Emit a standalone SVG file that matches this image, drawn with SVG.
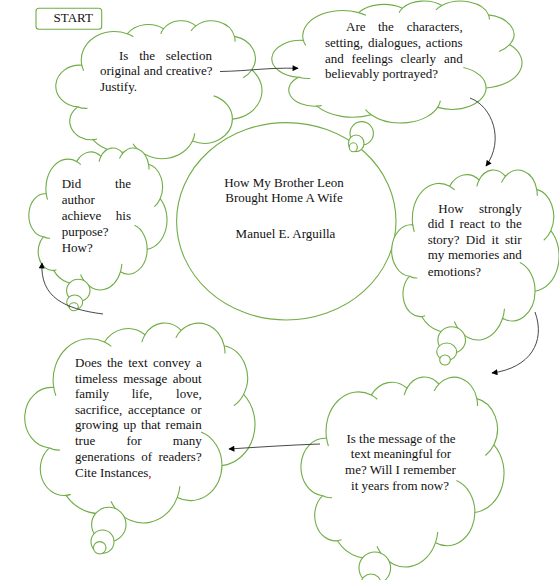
<svg xmlns="http://www.w3.org/2000/svg" xmlns:xlink="http://www.w3.org/1999/xlink" width="559" height="580" viewBox="0 0 559 580">
<style>
.cl{fill:#fff;stroke:#70AD47;stroke-width:1.1;vector-effect:non-scaling-stroke}
.cr{fill:none;stroke:#70AD47;stroke-width:1.1;vector-effect:non-scaling-stroke}
.bub{fill:#fff;stroke:#70AD47;stroke-width:1.1}
.t{font-family:"Liberation Serif","Times New Roman",serif;font-size:13px;fill:#111}
.e{text-anchor:end}
.m{text-anchor:middle}
.con{fill:none;stroke:#333;stroke-width:0.9;marker-end:url(#ah)}
</style>
<defs>
<marker id="ah" viewBox="0 0 10 10" refX="9" refY="5" markerWidth="7" markerHeight="6" markerUnits="userSpaceOnUse" orient="auto"><path d="M0,0 L10,5 L0,10 z" fill="#000"/></marker>
<g id="cloudShape">
<path class="cl" d="M9.03 33.26 A15.63 21.27 0 0 1 30.57 9.86 A12.34 16.82 0 0 1 47.79 6.08 A10.10 13.76 0 0 1 63.15 3.89 A11.24 15.27 0 0 1 81.44 11.77 A12.34 16.84 0 0 1 89.67 36.79 A15.68 21.34 0 0 1 80.48 73.45 A13.39 18.21 0 0 1 61.52 89.81 A15.63 21.33 0 0 1 35.54 96.04 A17.87 24.41 0 0 1 14.26 88.76 A10.09 13.70 0 0 1 7.16 64.35 A10.06 13.76 0 0 1 9.03 33.26 Z"/>
<path class="cr" d="M7.16 64.35 A10.06 13.76 0 0 0 11.69 65.44 M14.26 88.76 A10.09 13.70 0 0 0 16.25 88.26 M35.54 96.04 A15.63 21.33 0 0 1 33.32 91.78 M61.52 89.81 A15.63 21.33 0 0 0 62.61 84.06 M80.48 73.45 A13.39 18.21 0 0 0 71.60 56.12 M89.67 36.79 A12.34 16.84 0 0 1 85.55 42.58 M81.44 11.77 A11.24 15.27 0 0 1 81.76 15.72 M63.15 3.89 A11.24 15.27 0 0 0 60.87 7.60 M47.79 6.08 A10.10 13.76 0 0 0 46.46 9.90 M30.57 9.86 A15.63 21.27 0 0 1 33.49 12.09 M9.03 33.26 A15.63 21.27 0 0 0 9.94 37.47"/>
</g>
</defs>

<g id="start">
<rect x="36" y="8.3" width="65.7" height="21" rx="3" fill="#fff" stroke="#70AD47" stroke-width="1.1"/>
<text class="t" x="53.5" y="22.4">START</text>
</g>

<g id="title">
<ellipse cx="286.3" cy="221.3" rx="109.7" ry="98.7" fill="#fff" stroke="#70AD47" stroke-width="1.1"/>
<text class="t m" x="284" y="187.3">How My Brother Leon</text>
<text class="t m" x="284" y="202.3">Brought Home A Wife</text>
<text class="t m" x="285.5" y="238.3">Manuel E. Arguilla</text>
</g>

<g id="cloud1">
<use xlink:href="#cloudShape" transform="translate(62.77 20.63) scale(2.1079 1.3406)"/>
<text class="t" x="119" y="60">Is</text>
<text class="t" x="139.2" y="60">the</text>
<text class="t e" x="212" y="60">selection</text>
<text class="t" x="100" y="75.3">original and creative?</text>
<text class="t" x="100" y="90.7">Justify.</text>
</g>

<g id="cloud2">
<use xlink:href="#cloudShape" transform="translate(280.29 0.94) scale(2.5573 1.1852)"/>
<ellipse class="bub" cx="361.7" cy="133.3" rx="11.7" ry="11.7"/>
<ellipse class="bub" cx="356.2" cy="143.3" rx="7.8" ry="8.3"/>
<ellipse class="bub" cx="353.3" cy="147.2" rx="4" ry="4.5"/>
<text class="t" x="346" y="30.7">Are</text>
<text class="t" x="377.9" y="30.7">the</text>
<text class="t e" x="462.7" y="30.7">characters,</text>
<text class="t" x="325" y="46.7">setting,</text>
<text class="t" x="367.9" y="46.7">dialogues,</text>
<text class="t e" x="462.7" y="46.7">actions</text>
<text class="t" x="325" y="62.7">and</text>
<text class="t" x="351.6" y="62.7">feelings</text>
<text class="t" x="400.6" y="62.7">clearly</text>
<text class="t e" x="462.7" y="62.7">and</text>
<text class="t" x="325" y="78.3">believably portrayed?</text>
</g>

<g id="cloud3">
<use xlink:href="#cloudShape" transform="translate(33.5 147.93) scale(1.4124 1.3795)"/>
<ellipse class="bub" cx="78.3" cy="290.5" rx="11.7" ry="11.2"/>
<ellipse class="bub" cx="74.7" cy="302.2" rx="8" ry="7.2"/>
<ellipse class="bub" cx="73.8" cy="306.7" rx="4.5" ry="4"/>
<text class="t" x="61.7" y="188.3">Did</text>
<text class="t e" x="131" y="188.3">the</text>
<text class="t" x="61.7" y="204.3">author</text>
<text class="t" x="61.7" y="220">achieve</text>
<text class="t e" x="131" y="220">his</text>
<text class="t" x="61.7" y="235.7">purpose?</text>
<text class="t" x="61.7" y="251.5">How?</text>
</g>

<g id="cloud4">
<use xlink:href="#cloudShape" transform="translate(397.3 169.92) scale(1.7120 1.6515)"/>
<ellipse class="bub" cx="451.7" cy="340" rx="13.8" ry="13.3"/>
<ellipse class="bub" cx="446.7" cy="351.7" rx="10" ry="8.7"/>
<ellipse class="bub" cx="445" cy="360" rx="5.3" ry="5"/>
<text class="t" x="438.3" y="213.3">How</text>
<text class="t e" x="521.7" y="213.3">strongly</text>
<text class="t" x="427.7" y="228.3">did</text>
<text class="t" x="449.8" y="228.3">I</text>
<text class="t" x="459.5" y="228.3">react</text>
<text class="t" x="490.3" y="228.3">to</text>
<text class="t e" x="521.7" y="228.3">the</text>
<text class="t" x="427.7" y="244">story?</text>
<text class="t" x="465.8" y="244">Did</text>
<text class="t" x="491.6" y="244">it</text>
<text class="t e" x="521.7" y="244">stir</text>
<text class="t" x="427.7" y="259.3">my</text>
<text class="t" x="448" y="259.3">memories</text>
<text class="t e" x="521.7" y="259.3">and</text>
<text class="t" x="427.7" y="275.7">emotions?</text>
</g>

<g id="cloud5">
<use xlink:href="#cloudShape" transform="translate(32.5 322.9) scale(2.3540 1.9429)"/>
<ellipse class="bub" cx="108.8" cy="524.5" rx="17.2" ry="17.2"/>
<ellipse class="bub" cx="102.5" cy="541.7" rx="11.5" ry="11.7"/>
<ellipse class="bub" cx="99.7" cy="547.8" rx="6.3" ry="6.2"/>
<text class="t" x="75" y="366.7">Does</text>
<text class="t" x="107" y="366.7">the</text>
<text class="t" x="128.2" y="366.7">text</text>
<text class="t" x="153" y="366.7">convey</text>
<text class="t e" x="201.7" y="366.7">a</text>
<text class="t" x="75" y="382.7">timeless</text>
<text class="t" x="123.2" y="382.7">message</text>
<text class="t e" x="201.7" y="382.7">about</text>
<text class="t" x="75" y="398.3">family</text>
<text class="t" x="131.7" y="398.3">life,</text>
<text class="t e" x="201.7" y="398.3">love,</text>
<text class="t" x="75" y="414">sacrifice,</text>
<text class="t" x="128.1" y="414">acceptance</text>
<text class="t e" x="201.7" y="414">or</text>
<text class="t" x="75" y="429.3">growing</text>
<text class="t" x="123.2" y="429.3">up</text>
<text class="t" x="141.1" y="429.3">that</text>
<text class="t e" x="201.7" y="429.3">remain</text>
<text class="t" x="75" y="445">true</text>
<text class="t" x="126.4" y="445">for</text>
<text class="t e" x="201.7" y="445">many</text>
<text class="t" x="75" y="460.7">generations</text>
<text class="t" x="141.2" y="460.7">of</text>
<text class="t e" x="201.7" y="460.7">readers?</text>
<text class="t" x="75" y="476.7">Cite Instances<tspan fill="#e00000">,</tspan></text>
</g>

<g id="cloud6">
<use xlink:href="#cloudShape" transform="translate(307.8 376.91) scale(2.0758 1.8457)"/>
<ellipse class="bub" cx="374.8" cy="568" rx="15.8" ry="16"/>
<ellipse class="bub" cx="371" cy="584" rx="10" ry="10"/>
<text class="t m" x="401" y="442.7">Is the message of the</text>
<text class="t m" x="401" y="458.3">text meaningful for</text>
<text class="t m" x="400.5" y="474.3">me? Will I remember</text>
<text class="t m" x="400" y="490">it years from now?</text>
</g>

<g id="connectors">
<path class="con" d="M220,71.5 C250,71 265,67.5 298,68.3"/>
<path class="con" d="M470,98 C492,106 505,140 486,166"/>
<path class="con" d="M535,312 C546,342 530,368 492,373"/>
<path class="con" d="M320,444 C290,445 260,447 229,449"/>
<path class="con" d="M103,314 C64,309 40,297 42,263"/>
</g>
</svg>
